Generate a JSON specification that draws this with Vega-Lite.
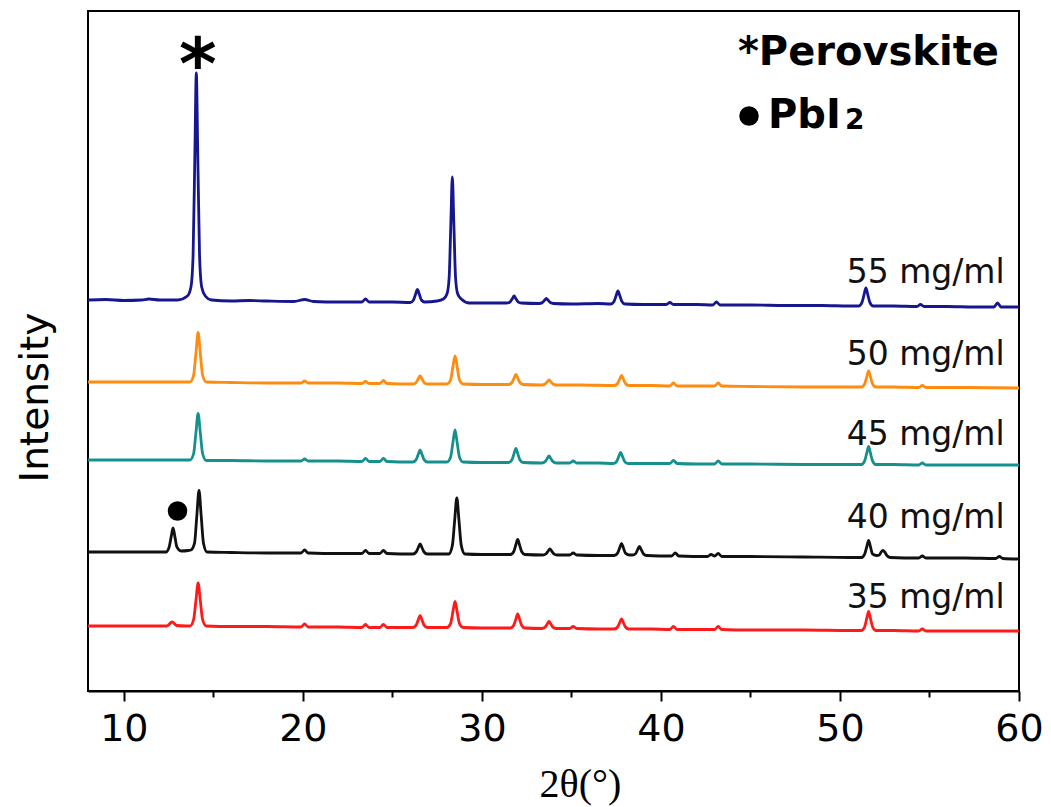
{
"$schema": "https://vega.github.io/schema/vega-lite/v6.json",
"width": 931, "height": 680,
"autosize": {"type": "none"},
"padding": {"left": 88, "top": 11, "right": 32, "bottom": 116},
"background": "white",
"config": {"view": {"stroke": "black", "strokeWidth": 2}, "axis": {"grid": false}},
"datasets": {
"xrd": [
{"s":"55","x":8,"y":391},{"s":"55","x":9,"y":391.5},{"s":"55","x":10,"y":390.5},{"s":"55","x":11,"y":391},{"s":"55","x":11.4,"y":392},{"s":"55","x":12,"y":391},{"s":"55","x":13,"y":391},{"s":"55","x":13.55,"y":395},{"s":"55","x":13.75,"y":404},{"s":"55","x":13.87,"y":436},{"s":"55","x":13.97,"y":538},{"s":"55","x":14.05,"y":618},{"s":"55","x":14.13,"y":538},{"s":"55","x":14.23,"y":436},{"s":"55","x":14.35,"y":404},{"s":"55","x":14.55,"y":395},{"s":"55","x":14.9,"y":391},{"s":"55","x":16,"y":390},{"s":"55","x":17,"y":390.5},{"s":"55","x":18,"y":390},{"s":"55","x":19.5,"y":389.5},{"s":"55","x":20.1,"y":391.5},{"s":"55","x":20.6,"y":389.5},{"s":"55","x":22,"y":389},{"s":"55","x":23.3,"y":389},{"s":"55","x":23.5,"y":392},{"s":"55","x":23.7,"y":389},{"s":"55","x":25,"y":389},{"s":"55","x":26,"y":388.5},{"s":"55","x":26.18,"y":391},{"s":"55","x":26.3,"y":397},{"s":"55","x":26.4,"y":401.5},{"s":"55","x":26.5,"y":397},{"s":"55","x":26.62,"y":391},{"s":"55","x":26.8,"y":389},{"s":"55","x":27.5,"y":390},{"s":"55","x":27.85,"y":392},{"s":"55","x":28.05,"y":397},{"s":"55","x":28.17,"y":413},{"s":"55","x":28.27,"y":470},{"s":"55","x":28.35,"y":514},{"s":"55","x":28.43,"y":470},{"s":"55","x":28.53,"y":413},{"s":"55","x":28.65,"y":397},{"s":"55","x":28.85,"y":392},{"s":"55","x":29.3,"y":388},{"s":"55","x":30,"y":388},{"s":"55","x":31,"y":388},{"s":"55","x":31.4,"y":388},{"s":"55","x":31.58,"y":389.2},{"s":"55","x":31.7,"y":392.3},{"s":"55","x":31.8,"y":395},{"s":"55","x":31.9,"y":392.3},{"s":"55","x":32.02,"y":389.2},{"s":"55","x":32.2,"y":388},{"s":"55","x":33.2,"y":387.5},{"s":"55","x":33.38,"y":388.5},{"s":"55","x":33.5,"y":390.7},{"s":"55","x":33.6,"y":392.5},{"s":"55","x":33.7,"y":390.7},{"s":"55","x":33.82,"y":388.5},{"s":"55","x":34,"y":387.5},{"s":"55","x":35,"y":387},{"s":"55","x":36.5,"y":387.5},{"s":"55","x":37.2,"y":387},{"s":"55","x":37.38,"y":389.6},{"s":"55","x":37.5,"y":395.5},{"s":"55","x":37.6,"y":400},{"s":"55","x":37.7,"y":395.5},{"s":"55","x":37.82,"y":389.6},{"s":"55","x":38,"y":387},{"s":"55","x":39,"y":386.5},{"s":"55","x":40.3,"y":386.5},{"s":"55","x":40.5,"y":388.5},{"s":"55","x":40.7,"y":386.5},{"s":"55","x":42,"y":386.5},{"s":"55","x":42.9,"y":386},{"s":"55","x":43.1,"y":389},{"s":"55","x":43.3,"y":386},{"s":"55","x":45,"y":386},{"s":"55","x":47,"y":385.5},{"s":"55","x":49,"y":385.5},{"s":"55","x":50.5,"y":385},{"s":"55","x":51.05,"y":385},{"s":"55","x":51.23,"y":388.6},{"s":"55","x":51.35,"y":396.7},{"s":"55","x":51.45,"y":403},{"s":"55","x":51.55,"y":396.7},{"s":"55","x":51.67,"y":388.6},{"s":"55","x":51.85,"y":385},{"s":"55","x":53,"y":385},{"s":"55","x":54.3,"y":384.5},{"s":"55","x":54.5,"y":386.5},{"s":"55","x":54.7,"y":384.5},{"s":"55","x":56,"y":384.5},{"s":"55","x":57.5,"y":384},{"s":"55","x":58.6,"y":384},{"s":"55","x":58.8,"y":388},{"s":"55","x":59,"y":384},{"s":"55","x":60,"y":384},

{"s":"50","x":8,"y":309},{"s":"50","x":10,"y":309},{"s":"50","x":12,"y":309},{"s":"50","x":13.4,"y":309},{"s":"50","x":13.7,"y":309},{"s":"50","x":13.9,"y":316},{"s":"50","x":14.03,"y":338},{"s":"50","x":14.15,"y":358.5},{"s":"50","x":14.27,"y":338},{"s":"50","x":14.4,"y":316},{"s":"50","x":14.6,"y":309},{"s":"50","x":16,"y":308.5},{"s":"50","x":18,"y":308},{"s":"50","x":19.9,"y":308},{"s":"50","x":20.1,"y":310},{"s":"50","x":20.3,"y":308},{"s":"50","x":22,"y":308},{"s":"50","x":23.3,"y":307.5},{"s":"50","x":23.5,"y":309.5},{"s":"50","x":23.7,"y":307.5},{"s":"50","x":24.3,"y":307.5},{"s":"50","x":24.5,"y":310.5},{"s":"50","x":24.7,"y":307.5},{"s":"50","x":26.15,"y":307},{"s":"50","x":26.33,"y":308.6},{"s":"50","x":26.45,"y":312.2},{"s":"50","x":26.55,"y":315},{"s":"50","x":26.65,"y":312.2},{"s":"50","x":26.77,"y":308.6},{"s":"50","x":26.95,"y":307},{"s":"50","x":28.05,"y":307},{"s":"50","x":28.25,"y":311},{"s":"50","x":28.38,"y":324},{"s":"50","x":28.5,"y":335},{"s":"50","x":28.62,"y":324},{"s":"50","x":28.75,"y":311},{"s":"50","x":28.95,"y":307},{"s":"50","x":30,"y":306.5},{"s":"50","x":31.5,"y":306.5},{"s":"50","x":31.68,"y":308.5},{"s":"50","x":31.8,"y":313},{"s":"50","x":31.9,"y":316.5},{"s":"50","x":32,"y":313},{"s":"50","x":32.12,"y":308.5},{"s":"50","x":32.3,"y":306.5},{"s":"50","x":33.35,"y":306},{"s":"50","x":33.53,"y":307},{"s":"50","x":33.65,"y":309.3},{"s":"50","x":33.75,"y":311},{"s":"50","x":33.85,"y":309.3},{"s":"50","x":33.97,"y":307},{"s":"50","x":34.15,"y":306},{"s":"50","x":35.5,"y":306},{"s":"50","x":37.4,"y":305.5},{"s":"50","x":37.58,"y":307.5},{"s":"50","x":37.7,"y":312},{"s":"50","x":37.8,"y":315.5},{"s":"50","x":37.9,"y":312},{"s":"50","x":38.02,"y":307.5},{"s":"50","x":38.2,"y":305.5},{"s":"50","x":39.5,"y":305.5},{"s":"50","x":40.5,"y":305},{"s":"50","x":40.7,"y":308},{"s":"50","x":40.9,"y":305},{"s":"50","x":42,"y":305},{"s":"50","x":43,"y":305},{"s":"50","x":43.2,"y":308},{"s":"50","x":43.4,"y":305},{"s":"50","x":45,"y":304.5},{"s":"50","x":48,"y":304},{"s":"50","x":50.5,"y":304},{"s":"50","x":51.2,"y":304},{"s":"50","x":51.38,"y":307.2},{"s":"50","x":51.5,"y":314.4},{"s":"50","x":51.6,"y":320},{"s":"50","x":51.7,"y":314.4},{"s":"50","x":51.82,"y":307.2},{"s":"50","x":52,"y":304},{"s":"50","x":53,"y":304},{"s":"50","x":54.4,"y":303.5},{"s":"50","x":54.6,"y":305.5},{"s":"50","x":54.8,"y":303.5},{"s":"50","x":57,"y":303.5},{"s":"50","x":60,"y":303},

{"s":"45","x":8,"y":231},{"s":"45","x":10,"y":231},{"s":"45","x":12,"y":231},{"s":"45","x":13.4,"y":231},{"s":"45","x":13.7,"y":231},{"s":"45","x":13.9,"y":237.5},{"s":"45","x":14.03,"y":258.7},{"s":"45","x":14.15,"y":277.5},{"s":"45","x":14.27,"y":258.7},{"s":"45","x":14.4,"y":237.5},{"s":"45","x":14.6,"y":230.5},{"s":"45","x":16,"y":230.5},{"s":"45","x":18,"y":230},{"s":"45","x":19.9,"y":230},{"s":"45","x":20.1,"y":232},{"s":"45","x":20.3,"y":230},{"s":"45","x":22,"y":230},{"s":"45","x":23.3,"y":229.5},{"s":"45","x":23.5,"y":232.5},{"s":"45","x":23.7,"y":229.5},{"s":"45","x":24.3,"y":229.5},{"s":"45","x":24.5,"y":232.5},{"s":"45","x":24.7,"y":229.5},{"s":"45","x":26.15,"y":229},{"s":"45","x":26.33,"y":231.4},{"s":"45","x":26.45,"y":236.8},{"s":"45","x":26.55,"y":241},{"s":"45","x":26.65,"y":236.8},{"s":"45","x":26.77,"y":231.4},{"s":"45","x":26.95,"y":229},{"s":"45","x":28.05,"y":229},{"s":"45","x":28.25,"y":233.8},{"s":"45","x":28.38,"y":248.2},{"s":"45","x":28.5,"y":261},{"s":"45","x":28.62,"y":248.2},{"s":"45","x":28.75,"y":233.8},{"s":"45","x":28.95,"y":229},{"s":"45","x":30,"y":228.5},{"s":"45","x":31.5,"y":228.5},{"s":"45","x":31.68,"y":231.3},{"s":"45","x":31.8,"y":237.6},{"s":"45","x":31.9,"y":242.5},{"s":"45","x":32,"y":237.6},{"s":"45","x":32.12,"y":231.3},{"s":"45","x":32.3,"y":228.5},{"s":"45","x":33.35,"y":228},{"s":"45","x":33.53,"y":229.4},{"s":"45","x":33.65,"y":232.5},{"s":"45","x":33.75,"y":235},{"s":"45","x":33.85,"y":232.5},{"s":"45","x":33.97,"y":229.4},{"s":"45","x":34.15,"y":228},{"s":"45","x":34.9,"y":228},{"s":"45","x":35.1,"y":230},{"s":"45","x":35.3,"y":228},{"s":"45","x":36.5,"y":228},{"s":"45","x":37.35,"y":227.5},{"s":"45","x":37.53,"y":229.7},{"s":"45","x":37.65,"y":234.7},{"s":"45","x":37.75,"y":238.5},{"s":"45","x":37.85,"y":234.7},{"s":"45","x":37.97,"y":229.7},{"s":"45","x":38.15,"y":227.5},{"s":"45","x":39.5,"y":227.5},{"s":"45","x":40.5,"y":227.5},{"s":"45","x":40.7,"y":230.5},{"s":"45","x":40.9,"y":227.5},{"s":"45","x":42,"y":227},{"s":"45","x":43,"y":227},{"s":"45","x":43.2,"y":230},{"s":"45","x":43.4,"y":227},{"s":"45","x":45,"y":227},{"s":"45","x":48,"y":226.5},{"s":"45","x":50.5,"y":226.5},{"s":"45","x":51.2,"y":226.5},{"s":"45","x":51.38,"y":230.1},{"s":"45","x":51.5,"y":238.2},{"s":"45","x":51.6,"y":244.5},{"s":"45","x":51.7,"y":238.2},{"s":"45","x":51.82,"y":230.1},{"s":"45","x":52,"y":226.5},{"s":"45","x":53,"y":226.5},{"s":"45","x":54.4,"y":226},{"s":"45","x":54.6,"y":228},{"s":"45","x":54.8,"y":226},{"s":"45","x":57,"y":226},{"s":"45","x":60,"y":226},

{"s":"40","x":8,"y":139},{"s":"40","x":10,"y":139},{"s":"40","x":11.5,"y":139},{"s":"40","x":12.35,"y":139},{"s":"40","x":12.53,"y":143.8},{"s":"40","x":12.65,"y":154.6},{"s":"40","x":12.75,"y":163},{"s":"40","x":12.85,"y":154.6},{"s":"40","x":12.97,"y":143.8},{"s":"40","x":13.2,"y":140},{"s":"40","x":13.6,"y":140.5},{"s":"40","x":13.75,"y":141},{"s":"40","x":13.95,"y":147.8},{"s":"40","x":14.08,"y":175.7},{"s":"40","x":14.2,"y":200.5},{"s":"40","x":14.32,"y":175.7},{"s":"40","x":14.45,"y":147.8},{"s":"40","x":14.65,"y":139},{"s":"40","x":16,"y":138.5},{"s":"40","x":18,"y":138},{"s":"40","x":19.9,"y":138},{"s":"40","x":20.1,"y":141},{"s":"40","x":20.3,"y":138},{"s":"40","x":22,"y":137.5},{"s":"40","x":23.3,"y":137.5},{"s":"40","x":23.5,"y":140.5},{"s":"40","x":23.7,"y":137.5},{"s":"40","x":24.3,"y":137.5},{"s":"40","x":24.5,"y":140.5},{"s":"40","x":24.7,"y":137.5},{"s":"40","x":26.15,"y":137},{"s":"40","x":26.33,"y":139},{"s":"40","x":26.45,"y":143.5},{"s":"40","x":26.55,"y":147},{"s":"40","x":26.65,"y":143.5},{"s":"40","x":26.77,"y":139},{"s":"40","x":26.95,"y":137},{"s":"40","x":28.15,"y":137},{"s":"40","x":28.35,"y":145.4},{"s":"40","x":28.48,"y":170.6},{"s":"40","x":28.6,"y":193},{"s":"40","x":28.72,"y":170.6},{"s":"40","x":28.85,"y":145.4},{"s":"40","x":29.05,"y":137},{"s":"40","x":30,"y":136.5},{"s":"40","x":31.6,"y":136.5},{"s":"40","x":31.78,"y":139.5},{"s":"40","x":31.9,"y":146.3},{"s":"40","x":32,"y":151.5},{"s":"40","x":32.1,"y":146.3},{"s":"40","x":32.22,"y":139.5},{"s":"40","x":32.4,"y":136.5},{"s":"40","x":33.4,"y":136},{"s":"40","x":33.58,"y":137.2},{"s":"40","x":33.7,"y":139.9},{"s":"40","x":33.8,"y":142},{"s":"40","x":33.9,"y":139.9},{"s":"40","x":34.02,"y":137.2},{"s":"40","x":34.2,"y":136},{"s":"40","x":34.9,"y":136},{"s":"40","x":35.1,"y":138},{"s":"40","x":35.3,"y":136},{"s":"40","x":36.5,"y":135.5},{"s":"40","x":37.4,"y":135.5},{"s":"40","x":37.58,"y":137.9},{"s":"40","x":37.7,"y":143.3},{"s":"40","x":37.8,"y":147.5},{"s":"40","x":37.9,"y":143.3},{"s":"40","x":38.02,"y":137.9},{"s":"40","x":38.25,"y":136},{"s":"40","x":38.42,"y":136},{"s":"40","x":38.58,"y":137.3},{"s":"40","x":38.7,"y":141.3},{"s":"40","x":38.8,"y":144.5},{"s":"40","x":38.9,"y":141.3},{"s":"40","x":39.02,"y":137.3},{"s":"40","x":39.2,"y":135.5},{"s":"40","x":40.6,"y":135},{"s":"40","x":40.8,"y":138},{"s":"40","x":41,"y":135},{"s":"40","x":42.6,"y":134.5},{"s":"40","x":42.8,"y":136.5},{"s":"40","x":43,"y":135},{"s":"40","x":43.2,"y":137.5},{"s":"40","x":43.4,"y":134.5},{"s":"40","x":45,"y":134.5},{"s":"40","x":48,"y":134},{"s":"40","x":50.5,"y":133.5},{"s":"40","x":51.2,"y":133.5},{"s":"40","x":51.38,"y":136.9},{"s":"40","x":51.5,"y":144.5},{"s":"40","x":51.6,"y":150.5},{"s":"40","x":51.7,"y":144.5},{"s":"40","x":51.82,"y":137},{"s":"40","x":52.05,"y":135.5},{"s":"40","x":52.2,"y":136},{"s":"40","x":52.3,"y":139},{"s":"40","x":52.4,"y":140.5},{"s":"40","x":52.5,"y":139},{"s":"40","x":52.62,"y":135.5},{"s":"40","x":52.8,"y":133.5},{"s":"40","x":54.4,"y":133},{"s":"40","x":54.6,"y":135},{"s":"40","x":54.8,"y":133},{"s":"40","x":57,"y":133},{"s":"40","x":58.7,"y":132.5},{"s":"40","x":58.9,"y":134.5},{"s":"40","x":59.1,"y":132.5},{"s":"40","x":60,"y":132},

{"s":"35","x":8,"y":65},{"s":"35","x":10,"y":65},{"s":"35","x":12,"y":65},{"s":"35","x":12.4,"y":65},{"s":"35","x":12.7,"y":69},{"s":"35","x":12.95,"y":65.5},{"s":"35","x":13.5,"y":65},{"s":"35","x":13.7,"y":65},{"s":"35","x":13.9,"y":71.5},{"s":"35","x":14.03,"y":90.8},{"s":"35","x":14.15,"y":108},{"s":"35","x":14.27,"y":90.8},{"s":"35","x":14.4,"y":71.5},{"s":"35","x":14.6,"y":65},{"s":"35","x":16,"y":64.5},{"s":"35","x":18,"y":64.5},{"s":"35","x":19.9,"y":64},{"s":"35","x":20.1,"y":67},{"s":"35","x":20.3,"y":64},{"s":"35","x":22,"y":64},{"s":"35","x":23.3,"y":63.5},{"s":"35","x":23.5,"y":66.5},{"s":"35","x":23.7,"y":63.5},{"s":"35","x":24.3,"y":63.5},{"s":"35","x":24.5,"y":66.5},{"s":"35","x":24.7,"y":63.5},{"s":"35","x":26.15,"y":63.5},{"s":"35","x":26.33,"y":65.9},{"s":"35","x":26.45,"y":71.3},{"s":"35","x":26.55,"y":75.5},{"s":"35","x":26.65,"y":71.3},{"s":"35","x":26.77,"y":65.9},{"s":"35","x":26.95,"y":63.5},{"s":"35","x":28.05,"y":63.5},{"s":"35","x":28.25,"y":67.4},{"s":"35","x":28.38,"y":79.1},{"s":"35","x":28.5,"y":89.5},{"s":"35","x":28.62,"y":79.1},{"s":"35","x":28.75,"y":67.4},{"s":"35","x":28.95,"y":63.5},{"s":"35","x":30,"y":63},{"s":"35","x":31.6,"y":63},{"s":"35","x":31.78,"y":65.8},{"s":"35","x":31.9,"y":72.1},{"s":"35","x":32,"y":77},{"s":"35","x":32.1,"y":72.1},{"s":"35","x":32.22,"y":65.8},{"s":"35","x":32.4,"y":63},{"s":"35","x":33.35,"y":62.5},{"s":"35","x":33.53,"y":63.9},{"s":"35","x":33.65,"y":67},{"s":"35","x":33.75,"y":69.5},{"s":"35","x":33.85,"y":67},{"s":"35","x":33.97,"y":63.9},{"s":"35","x":34.15,"y":62.5},{"s":"35","x":34.9,"y":62.5},{"s":"35","x":35.1,"y":64.5},{"s":"35","x":35.3,"y":62.5},{"s":"35","x":36.5,"y":62},{"s":"35","x":37.4,"y":62},{"s":"35","x":37.58,"y":64},{"s":"35","x":37.7,"y":68.5},{"s":"35","x":37.8,"y":72},{"s":"35","x":37.9,"y":68.5},{"s":"35","x":38.02,"y":64},{"s":"35","x":38.2,"y":62},{"s":"35","x":39.5,"y":62},{"s":"35","x":40.5,"y":61.5},{"s":"35","x":40.7,"y":64.5},{"s":"35","x":40.9,"y":61.5},{"s":"35","x":42,"y":61.5},{"s":"35","x":43,"y":61.5},{"s":"35","x":43.2,"y":64.5},{"s":"35","x":43.4,"y":61.5},{"s":"35","x":45,"y":61},{"s":"35","x":48,"y":61},{"s":"35","x":50.5,"y":60.5},{"s":"35","x":51.2,"y":60.5},{"s":"35","x":51.38,"y":64.3},{"s":"35","x":51.5,"y":72.9},{"s":"35","x":51.6,"y":79.5},{"s":"35","x":51.7,"y":72.9},{"s":"35","x":51.82,"y":64.3},{"s":"35","x":52,"y":60.5},{"s":"35","x":53,"y":60.5},{"s":"35","x":54.4,"y":60},{"s":"35","x":54.6,"y":62},{"s":"35","x":54.8,"y":60},{"s":"35","x":57,"y":60},{"s":"35","x":60,"y":60}
],
"labels": [
{"t":"55 mg/ml","x":59.2,"y":408},{"t":"50 mg/ml","x":59.2,"y":326},{"t":"45 mg/ml","x":59.2,"y":246},{"t":"40 mg/ml","x":59.2,"y":163},{"t":"35 mg/ml","x":59.2,"y":83}
]
},
"encoding": {
"x": {"field": "x", "type": "quantitative",
  "scale": {"domain": [8, 60], "nice": false, "zero": false},
  "axis": {"title": "2θ(°)", "values": [10,15,20,25,30,35,40,45,50,55,60],
    "labelExpr": "datum.value % 10 === 0 ? datum.label : ''",
    "tickSize": {"condition": {"test": "datum.value % 10 !== 0", "value": 6}, "value": 10},
    "tickWidth": 2, "tickColor": "black", "domainColor": "black", "domainWidth": 2,
    "labelFont": "DejaVu Sans", "labelFontSize": 38, "labelColor": "black", "labelPadding": 9,
    "labelFlush": false, "labelOverlap": false,
    "titleFont": "Liberation Serif", "titleFontSize": 40, "titleFontWeight": "normal", "titleColor": "black",
    "titleAnchor": null, "titleAlign": "center", "titleBaseline": "alphabetic", "titleX": 492, "titleY": 105}},
"y": {"field": "y", "type": "quantitative",
  "scale": {"domain": [0, 680], "nice": false, "zero": false},
  "axis": {"title": "Intensity", "ticks": false, "labels": false, "domain": false,
    "titleFont": "DejaVu Sans", "titleFontSize": 39, "titleFontWeight": "normal", "titleColor": "black",
    "titleAngle": 270, "titleAlign": "center", "titleBaseline": "alphabetic", "titleX": -41, "titleY": 386}}
},
"layer": [
{"data": {"name": "xrd"},
 "mark": {"type": "line", "interpolate": "monotone", "strokeWidth": 2.8},
 "encoding": {"color": {"field": "s", "type": "nominal", "legend": null,
   "scale": {"domain": ["55","50","45","40","35"], "range": ["#16168f","#ff8c10","#16908f","#111111","#ff1a1a"]}},
   "detail": {"field": "s"}}},
{"data": {"name": "labels"},
 "mark": {"type": "text", "align": "right", "baseline": "alphabetic", "font": "DejaVu Sans", "fontSize": 33, "color": "#111111"},
 "encoding": {"text": {"field": "t"}}},
{"data": {"values": [{"t":"*Perovskite","x":44.3,"y":626},{"t":"PbI","x":45.98,"y":563}]},
 "mark": {"type": "text", "align": "left", "baseline": "alphabetic", "font": "DejaVu Sans", "fontWeight": "bold", "fontSize": 40, "color": "black"},
 "encoding": {"text": {"field": "t"}}},
{"data": {"values": [{"t":"2","x":50.28,"y":562}]},
 "mark": {"type": "text", "align": "left", "baseline": "alphabetic", "font": "DejaVu Sans", "fontWeight": "bold", "fontSize": 28, "color": "black"},
 "encoding": {"text": {"field": "t"}}},
{"data": {"values": [{"t":"*","x":14.14,"y":602}]},
 "mark": {"type": "text", "align": "center", "baseline": "alphabetic", "font": "DejaVu Sans", "fontWeight": "bold", "fontSize": 72, "color": "black"},
 "encoding": {"text": {"field": "t"}}},
{"data": {"values": [{"x":44.92,"y":575},{"x":13.0,"y":180}]},
 "mark": {"type": "point", "shape": "circle", "filled": true, "size": 380, "color": "black", "opacity": 1}}
]
}
